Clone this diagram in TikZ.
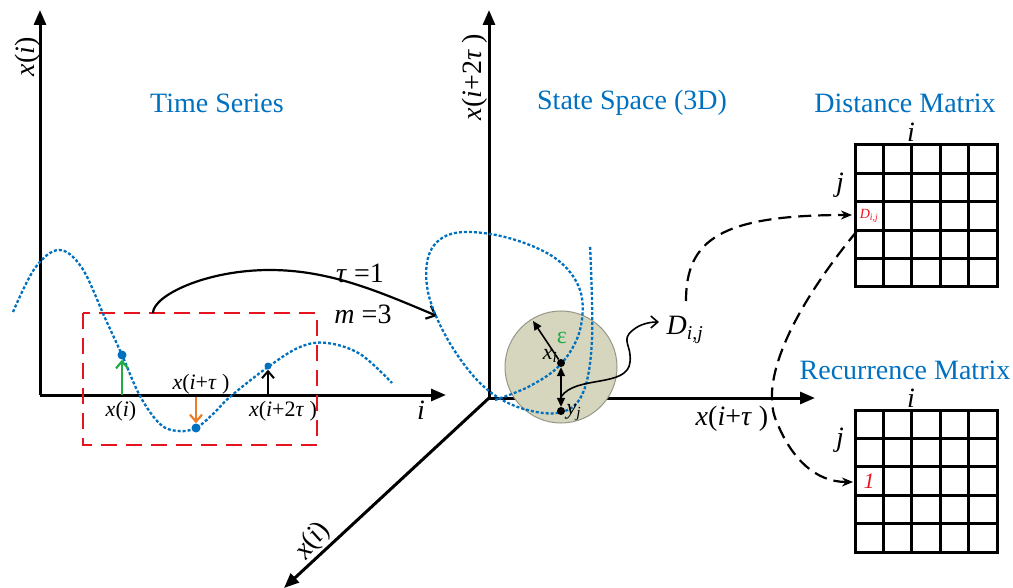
\documentclass[tikz,border=0pt]{standalone}
\usepackage{fontspec}
\setmainfont{Liberation Serif}
\usetikzlibrary{arrows.meta}
\definecolor{tblue}{RGB}{0,112,192}
\definecolor{tgreen}{RGB}{34,170,70}
\definecolor{torange}{RGB}{235,125,40}
\definecolor{ballfill}{RGB}{214,214,190}
\definecolor{ballline}{RGB}{150,150,135}
\definecolor{tred}{RGB}{230,20,30}
\newcommand{\vv}[1]{\textit{#1}}
\begin{document}
\begin{tikzpicture}[x=1pt,y=-1pt,
  axis/.style={line width=3pt,-{Triangle[length=15pt,width=12pt]}},
  title/.style={text=tblue,font=\fontsize{28}{32}\selectfont},
  biglab/.style={font=\fontsize{28}{32}\selectfont},
  smalllab/.style={font=\fontsize{22}{26}\selectfont},
  dots/.style={tblue,line width=2.3pt,dash pattern=on 3pt off 2pt},
  reddash/.style={tred,line width=2.5pt,dash pattern=on 16pt off 9pt},
  blackdash/.style={line width=2.2pt,dash pattern=on 13pt off 7pt,-{Stealth[length=11pt,width=9pt]}},
  gridline/.style={line width=3pt},
  pt/.style={circle,fill=#1,inner sep=0pt,minimum size=8pt},
  thinarrow/.style={line width=1.8pt,-{Stealth[length=11pt,width=9pt]}}]
\useasboundingbox (0,0) rectangle (1013,588);

% ---------- Time series ----------
\coordinate (o1) at (40,395);
\coordinate (y1) at (40,10);
\coordinate (x1) at (446,395);
\draw[axis] (o1) -- (y1);
\draw[axis] (o1) -- (x1);
\node[biglab,rotate=90] (ylab1) at (28,57) {\vv{x}(\vv{i})};
\node[biglab] (ilab) at (421,410) {\vv{i}};
\node[title] (tts) at (217,103) {Time Series};

\draw[reddash] (83,313) rectangle (317,445);

\draw[dots] plot[smooth,tension=0.6] coordinates {(13,312) (35,268) (59,250) (82,268) (105,318) (122,355) (140,396) (160,424) (178,431) (196,428) (213,414) (231,396) (268,367) (300,347) (327,343) (360,354) (392,383)};

\coordinate (g0) at (122,395);
\node[pt=tblue,minimum size=9pt] (p1) at (122,355) {};
\node[pt=tblue,minimum size=9pt] (p2) at (196,428) {};
\node[pt=tblue,minimum size=7pt] (p3) at (268,366) {};
\coordinate (r0) at (196,397);
\coordinate (b0) at (268,395);
\draw[tgreen,line width=2.2pt,-{Straight Barb[length=7pt,width=12pt]}] (g0) -- (p1.south);
\draw[torange,line width=2.2pt,-{Straight Barb[length=7pt,width=12pt]}] (r0) -- (p2.north);
\draw[line width=2pt,-{Straight Barb[length=7pt,width=12pt]}] (b0) -- (p3.south);

\node[smalllab] (l1) at (121,411) {\vv{x}(\vv{i})};
\node[smalllab] (l2) at (201,384) {\vv{x}(\vv{i}+\vv{τ} )};
\node[smalllab] (l3) at (283,411) {\vv{x}(\vv{i}+2\vv{τ} )};

\coordinate (ts0) at (153,313);
\coordinate (ts1) at (437,316);
\draw[line width=2.2pt,-{Straight Barb[length=8pt,width=14pt]}] (ts0) .. controls (153,296) and (205,270) .. (270,270) .. controls (330,270) and (380,292) .. (ts1);
\node[biglab] (tau) at (360,273) {\vv{τ} =1};
\node[biglab] (mm) at (363,314) {\vv{m} =3};

% ---------- State space ----------
\coordinate (o2) at (489,398);
\coordinate (y2) at (489,10);
\coordinate (x2) at (815,398);
\coordinate (z2) at (284,588);
\draw[axis] (o2) -- (y2);
\draw[axis] (o2) -- (x2);
\draw[axis] (o2) -- (z2);
\node[biglab,rotate=90] (ylab2) at (475,77) {\vv{x}(\vv{i}+2\vv{τ} )};
\node[biglab] (xlab2) at (732,419) {\vv{x}(\vv{i}+\vv{τ} )};
\node[biglab,rotate=52] (zlab2) at (313,541) {\vv{x}(\vv{i})};
\node[title] (tss) at (632,103) {State Space (3D)};

\node[circle,fill=ballfill,draw=ballline,line width=1pt,minimum size=112pt,inner sep=0pt] (ball) at (561,367) {};

\draw[dots] plot[smooth,tension=0.6] coordinates {(495,400) (530,386) (561,364) (580,330) (580,290) (555,258) (505,237) (455,233) (430,252) (428,292) (448,340) (480,383) (515,406) (557,413) (582,395) (592,340) (590,245)};

\node[pt=black] (xi) at (561,363) {};
\node[pt=black] (yj) at (561,411) {};
\coordinate (eps) at (533,321);
\draw[line width=1.6pt,{Triangle[length=9pt,width=8pt]}-{Triangle[length=9pt,width=8pt]}] (xi.south) -- (yj.north);
\draw[line width=1.6pt,-{Triangle[length=9pt,width=8pt]}] (xi) -- (eps);
\node[text=tgreen,font=\fontsize{24}{28}\selectfont] (epslab) at (562,338) {ε};
\node[font=\fontsize{22}{26}\selectfont,anchor=east] (xilab) at (561,356) {\vv{x}\textsubscript{\vv{i}}};
\node[font=\fontsize{22}{26}\selectfont,anchor=west] (yjlab) at (563,413) {\vv{y}\textsubscript{\vv{j}}};

\coordinate (w0) at (561,397);
\coordinate (w1) at (659,322);
\draw[line width=1.6pt,-{Straight Barb[length=7pt,width=12pt]}] (w0) .. controls (575,375) and (628,388) .. (630,362) .. controls (632,345) and (620,340) .. (633,330) .. controls (640,324) and (650,322) .. (w1);
\node[biglab] (dij) at (685,330) {\vv{D}\textsubscript{\vv{i,j}}};

% ---------- Distance matrix ----------
\node[title] (tdm) at (905,103) {Distance Matrix};
\foreach \k in {0,...,5} {
  \draw[gridline] ({855+\k*28.4},145) -- ({855+\k*28.4},287);
  \draw[gridline] (853.5,{145+\k*28.4}) -- (998.5,{145+\k*28.4});
}
\node[biglab] (di) at (911,132) {\vv{i}};
\node[biglab] (dj) at (840,185) {\vv{j}};
\node[text=tred,font=\fontsize{14}{16}\selectfont] (dcell) at (869,216) {\vv{D}\textsubscript{\vv{i,j}}};
\coordinate (dm-in) at (852,215);
\coordinate (dm-out) at (857,231);

% ---------- Recurrence matrix ----------
\node[title] (trm) at (905,370) {Recurrence Matrix};
\foreach \k in {0,...,5} {
  \draw[gridline] ({855+\k*28.4},410) -- ({855+\k*28.4},552);
  \draw[gridline] (853.5,{410+\k*28.4}) -- (998.5,{410+\k*28.4});
}
\node[biglab] (ri) at (911,398) {\vv{i}};
\node[biglab] (rj) at (840,440) {\vv{j}};
\node[text=tred,font=\fontsize{22}{26}\selectfont] (rcell) at (869,481) {\vv{1}};
\coordinate (rm-in) at (853,482);

% ---------- dashed connectors ----------
\coordinate (dj-start) at (686,301);
\draw[blackdash] (dj-start) .. controls (686,240) and (720,215) .. (dm-in);
\draw[blackdash] (dm-out) .. controls (800,300) and (755,380) .. (778,425) .. controls (792,458) and (815,482) .. (rm-in);
\end{tikzpicture}
\end{document}
